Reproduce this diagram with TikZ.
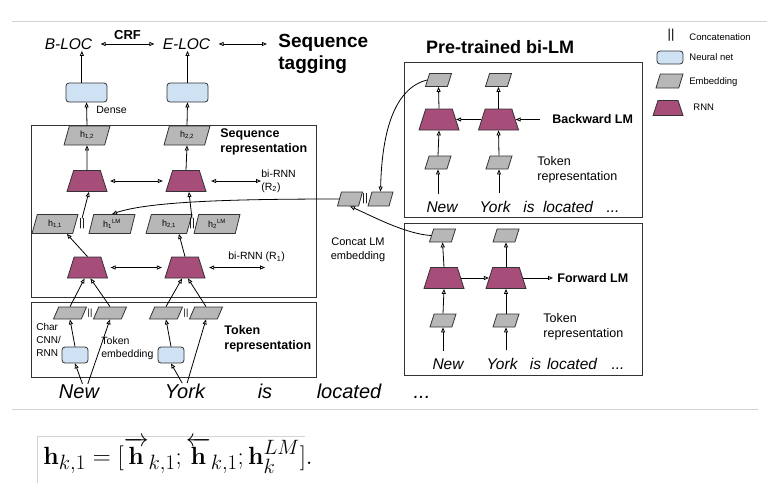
\documentclass[tikz,border=0pt]{standalone}
\usepackage{amsmath}
\usepackage[no-math]{fontspec}
\usetikzlibrary{positioning}
\usetikzlibrary{arrows.meta}
\usetikzlibrary{shapes.geometric,calc}
\newfontfamily\arialfont{Liberation Sans}
\newcommand*{\fsz}[2]{\fontsize{#1}{#2}\selectfont}
\definecolor{rnnfill}{HTML}{A64D79}
\definecolor{embfill}{HTML}{B7B7B7}
\definecolor{nnfill}{HTML}{CFE2F3}
\definecolor{sepline}{HTML}{D3D3D3}
\definecolor{framec}{HTML}{333333}

\tikzset{
  panel/.style={draw=framec, line width=0.9pt, inner sep=0pt},
  rnn/.style={trapezium, trapezium stretches=true,
    trapezium left angle=76, trapezium right angle=76,
    draw=framec, fill=rnnfill,
    minimum width=40pt, minimum height=21pt, inner sep=1pt},
  emb/.style={trapezium, trapezium stretches=true,
    trapezium left angle=77, trapezium right angle=103,
    draw=framec, fill=embfill,
    minimum width=46pt, minimum height=19pt, inner sep=1pt,
    font=\arialfont\fsz{9}{10}},
  tokemb/.style={emb, minimum width=33pt, minimum height=12pt},
  smallemb/.style={emb, minimum width=26pt, minimum height=13pt},
  nnet/.style={draw=framec, fill=nnfill, rounded corners=3pt,
    minimum width=41pt, minimum height=19pt, inner sep=0pt},
  catsym/.style={font=\arialfont\fsz{11}{12}, inner sep=0pt},
  tagword/.style={font=\arialfont\itshape\fsz{15.5}{18}, inner xsep=8pt, inner ysep=1pt},
  word/.style={font=\arialfont\itshape\fsz{20}{24}, inner sep=0pt, anchor=base},
  smallword/.style={font=\arialfont\itshape\fsz{15.5}{18}, inner sep=0pt, anchor=base},
  note/.style={font=\arialfont\fsz{10.5}{13}, inner sep=0pt, align=left, anchor=west},
  boldnote/.style={font=\arialfont\bfseries\fsz{12.5}{15}, inner sep=0pt, align=left, anchor=west},
  legendtext/.style={font=\arialfont\fsz{9.5}{11}, inner sep=0pt, anchor=west},
  link/.style={<->, shorten <=6pt, shorten >=6pt},
  wordarr/.style={->, shorten <=7pt},
}

\begin{document}
\begin{tikzpicture}[x=1pt, y=-1pt, line width=0.8pt,
    >={Triangle[open,length=5pt,width=4pt]}]
\useasboundingbox (0,0) rectangle (767,483);

% separators
\draw[sepline] (12,21) -- (767,21);
\draw[sepline] (12,409) -- (758,409);

% Sequence tagging
\node[tagword] (bloc) at (68.5,44) {B-LOC};
\node[tagword] (eloc) at (186.5,44) {E-LOC};
\node[font=\arialfont\bfseries\fsz{13}{15}, inner sep=0pt] (crf) at (127.5,35.5) {CRF};
\node[font=\arialfont\bfseries\fsz{19}{22}, align=left,
    anchor=north west, inner sep=0pt] (seqtag) at (278,34) {Sequence\\tagging};
\draw[<->] (bloc) -- (eloc);
\draw[<->] (eloc.east) -- ([xshift=-11pt]eloc.east -| seqtag.west);

% Dense
\node[nnet] (dense1) at (86.5,92.5) {};
\node[nnet] (dense2) at (187.5,92.5) {};
\node[note] (denselbl) at (96,110) {Dense};
\draw[->] (dense1.115) -- (dense1.115 |- bloc.south);
\draw[->] (dense2.north) -- (dense2.north |- eloc.south);

% Sequence representation
\node[panel, minimum width=285pt, minimum height=172pt] (seqbox) at (173.5,211) {};
\node[emb] (h12) at (87,135.5) {h\textsubscript{1,2}};
\node[emb] (h22) at (187,135.5) {h\textsubscript{2,2}};
\node[boldnote] (seqlbl) at (220,142) {Sequence\\representation};

\node[rnn] (r21) at (87,181) {};
\node[rnn] (r22) at (186,181) {};
\node[note] (birnn2) at (261,181) {bi-RNN\\(R\textsubscript{2})};
\draw[link] (r21) -- (r22);
\draw[<->, shorten <=8pt] (r22.east) -- (birnn2.west);

\node[emb] (h11) at (55,224) {h\textsubscript{1,1}};
\node[catsym] (cat1) at (82,224) {||};
\node[emb] (h1lm) at (112,224) {h\textsubscript{1}\textsuperscript{LM}};
\node[emb] (h21) at (169,224) {h\textsubscript{2,1}};
\node[catsym] (cat2) at (192,224) {||};
\node[emb] (h2lm) at (217,224) {h\textsubscript{2}\textsuperscript{LM}};

\node[rnn] (r11) at (87.5,267.5) {};
\node[rnn] (r12) at (185,267.5) {};
\coordinate (r1end) at (265,267.5);
\node[note] (birnn1) at (228,257) {bi-RNN (R\textsubscript{1})};
\draw[link] (r11) -- (r12);
\draw[<->, shorten <=7pt] (r12.east) -- (r1end);

\draw[->] (r21.north) -- (h12.south);
\draw[->] (r22.north) -- (h22.south);
\draw[->] (h12.north) -- (dense1.south);
\draw[->] (h22.north) -- (dense2.south);
\draw[->] (cat1.north) -- (r21.280);
\draw[->] (cat2.north) -- (r22.285);
\draw[->] (r11.north) -- (h11.-40);
\draw[->] (r12.north) -- (h21.-45);

% Token representation
\node[panel, minimum width=285pt, minimum height=75pt] (tokbox) at (173.5,339.5) {};
\node[tokemb] (e1) at (70,313) {};
\node[catsym, font=\arialfont\fsz{9}{10}] (tcat1) at (90,313) {||};
\node[tokemb] (e2) at (110,313) {};
\node[tokemb] (e3) at (166,313) {};
\node[catsym, font=\arialfont\fsz{9}{10}] (tcat2) at (186,313) {||};
\node[tokemb] (e4) at (206,313) {};
\node[nnet, minimum width=26pt, minimum height=16pt] (char1) at (75,355) {};
\node[nnet, minimum width=26pt, minimum height=16pt] (char2) at (171,355) {};
\node[note, font=\arialfont\fsz{10}{13}] (charlbl) at (36,340) {Char\\CNN/\\RNN};
\node[note] (toklbl) at (101,348.5) {Token\\embedding};
\node[boldnote] (tokrep) at (224,339) {Token\\representation};

\node[word] (wnew) at (79,398) {New};
\node[word] (wyork) at (185,398) {York};
\node[word] (wis) at (265,398) {is};
\node[word] (wloc) at (349,398) {located};
\node[word] (wdots) at (422,398) {...};

\draw[->] (e1.north) -- (r11.255);
\draw[->] (e2.north) -- (r11.285);
\draw[->] (e3.north) -- (r12.255);
\draw[->] (e4.north) -- (r12.285);
\draw[->] (char1.north) -- (e1.south);
\draw[->] (char2.north) -- (e3.south);
\draw[->] (wnew.65) -- (char1.south);
\draw[->] (wnew.40) -- (e2.south);
\draw[->] (wyork.110) -- (char2.south);
\draw[->] (wyork.75) -- (e4.south);

% Pre-trained bi-LM
\node[font=\arialfont\bfseries\fsz{18}{21}, inner sep=0pt] (bilm) at (500,47) {Pre-trained bi-LM};
\node[panel, minimum width=238pt, minimum height=155pt] (bwbox) at (523,139.5) {};
\node[panel, minimum width=238pt, minimum height=152pt] (fwbox) at (523,299) {};

% backward LM
\node[smallemb] (bte1) at (438.5,80) {};
\node[smallemb] (bte2) at (498.5,80) {};
\node[rnn] (brnn1) at (439,119.5) {};
\node[rnn] (brnn2) at (498.5,119.5) {};
\node[smallemb] (bemb1) at (438,162.5) {};
\node[smallemb] (bemb2) at (499,162.5) {};
\node[smallword] (bnew) at (442,212) {New};
\node[smallword] (byork) at (495,212) {York};
\node[smallword] (bis) at (529,212) {is};
\node[smallword] (bloctd) at (568,212) {located};
\node[smallword] (bdots) at (613,212) {...};
\node[boldnote] (bwlbl) at (552,119.5) {Backward LM};
\node[note, font=\arialfont\fsz{12.5}{15}] (btoklbl) at (537,170) {Token\\representation};

\draw[wordarr] (bnew.north -| bemb1.south) -- (bemb1.south);
\draw[wordarr] (byork.north -| bemb2.south) -- (bemb2.south);
\draw[->] (bemb1.north) -- (brnn1.south);
\draw[->] (bemb2.north) -- (brnn2.south);
\draw[->] (brnn1.north) -- (bte1.south);
\draw[->] (brnn2.north) -- (bte2.south);
\draw[->] (brnn2) -- (brnn1);
\draw[->] ([xshift=-12pt]bwlbl.west) -- (brnn2.east);

% forward LM
\node[smallemb] (fte1) at (442.5,235.5) {};
\node[smallemb] (fte2) at (506,235.5) {};
\node[rnn] (frnn1) at (444,278) {};
\node[rnn] (frnn2) at (506,278) {};
\node[smallemb] (femb1) at (443,320.5) {};
\node[smallemb] (femb2) at (506,320.5) {};
\node[smallword] (fnew) at (448,369) {New};
\node[smallword] (fyork) at (502,369) {York};
\node[smallword] (fis) at (535.5,369) {is};
\node[smallword] (floctd) at (572,369) {located};
\node[smallword] (fdots) at (618,369) {...};
\node[boldnote] (fwlbl) at (557,278) {Forward LM};
\node[note, font=\arialfont\fsz{12.5}{15}] (ftoklbl) at (543,327) {Token\\representation};

\draw[wordarr] (fnew.north -| femb1.south) -- (femb1.south);
\draw[wordarr] (fyork.north -| femb2.south) -- (femb2.south);
\draw[->] (femb1.north) -- (frnn1.south);
\draw[->] (femb2.north) -- (frnn2.south);
\draw[->] (frnn1.north) -- (fte1.south);
\draw[->] (frnn2.north) -- (fte2.south);
\draw[->] (frnn1) -- (frnn2);
\draw[->] (frnn2.east) -- ([xshift=-4pt]fwlbl.west);

% Concat LM embedding
\node[smallemb, minimum width=25pt, minimum height=14pt] (cc1) at (350,199) {};
\node[catsym] (cccat) at (365,199) {||};
\node[smallemb, minimum width=25pt, minimum height=14pt] (cc2) at (380.5,199) {};
\node[note, font=\arialfont\fsz{11}{14}, align=center, anchor=center] (cclbl) at (358,250) {Concat LM\\embedding};
\draw[->] (cc1.west) .. controls (240,199) and (150,201) .. (h1lm.north);
\draw[->] (bte1.west) .. controls (395,88) and (382,130) .. (cc2.north);
\draw[->] (fte1.west) .. controls (405,234) and (370,215) .. (cc1.south);

% legend
\node[catsym, font=\arialfont\fsz{13}{14}] (lgcat) at (671,35) {||};
\node[legendtext] (lgcattxt) at (689,37) {Concatenation};
\node[nnet, minimum width=26pt, minimum height=13pt] (lgnn) at (670,57.5) {};
\node[legendtext] (lgnntxt) at (689,57) {Neural net};
\node[smallemb, minimum width=27pt, minimum height=14pt] (lgemb) at (669.5,81) {};
\node[legendtext] (lgembtxt) at (689,82) {Embedding};
\node[rnn, minimum width=30pt, minimum height=15pt] (lgrnn) at (668,108) {};
\node[legendtext] (lgrnntxt) at (693,107) {RNN};

% equation
\draw[sepline] (37,483) -- (37,436) -- (305,436);
\node[anchor=base west, inner sep=0pt, font=\fsz{24.88}{30}] (eq) at (43,464)
    {$\mathbf{h}_{k,1} = [\overrightarrow{\mathbf{h}}_{k,1}; \overleftarrow{\mathbf{h}}_{k,1}; \mathbf{h}_k^{LM}].$};
\end{tikzpicture}
\end{document}
